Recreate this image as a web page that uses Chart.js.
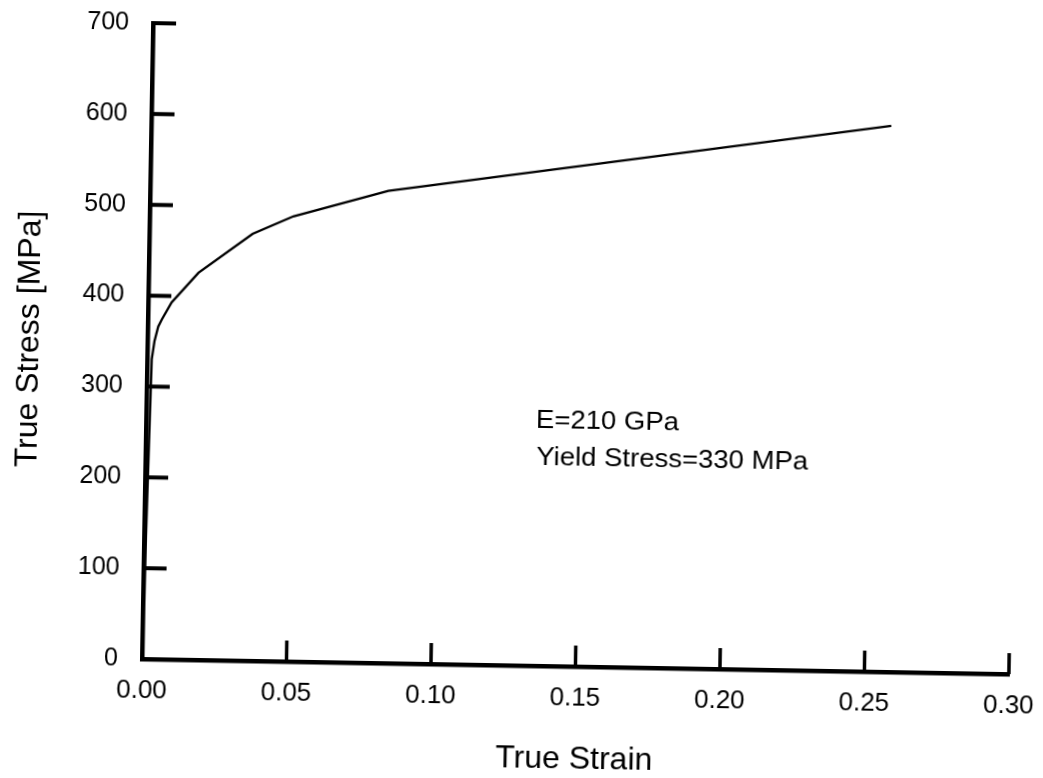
<!DOCTYPE html>
<html>
<head>
<meta charset="utf-8">
<script src="https://cdn.jsdelivr.net/npm/chart.js@4.4.1/dist/chart.umd.min.js"></script>
<style>
    html, body {
        margin: 0;
        padding: 0;
        background: #ffffff;
        overflow: hidden;
        width: 1043px;
        height: 778px;
    }
    #stressChart {
        position: absolute;
        left: 0;
        top: 0;
        /* the scanned figure sits slightly tilted */
        transform-origin: 142px 659px;
        transform: rotate(1deg);
    }
</style>
</head>
<body>
<canvas id="stressChart" width="1043" height="778"></canvas>
<script>
// Curve (true strain, true stress in MPa)
const trueStrain = [0, 0.00157, 0.0024, 0.0036, 0.0048, 0.0081, 0.0172, 0.0357, 0.0497, 0.0824, 0.256];
const trueStress = [0, 330, 350, 366, 374, 393, 426, 470, 490, 520, 601];

// Tick labels
const xTickLabels = ['0.00', '0.05', '0.10', '0.15', '0.20', '0.25', '0.30'];
const yTickLabels = ['0', '100', '200', '300', '400', '500', '600', '700'];

// Annotation text
const noteLines = ['E=210 GPa', 'Yield Stress=330 MPa'];

const FONT = '"Liberation Sans", Arial, Helvetica, sans-serif';

// Inward tick marks + the material note
const figureExtras = {
    id: 'figureExtras',
    afterDraw(chart) {
        const ctx = chart.ctx;
        const x = chart.scales.x;
        const y = chart.scales.y;
        const area = chart.chartArea;

        ctx.save();
        ctx.strokeStyle = '#000';
        ctx.lineCap = 'butt';

        // y ticks point into the plot
        ctx.lineWidth = 4;
        y.ticks.forEach(t => {
            if (t.value === 0) return;
            const py = y.getPixelForValue(t.value);
            ctx.beginPath();
            ctx.moveTo(area.left, py);
            ctx.lineTo(area.left + 23, py);
            ctx.stroke();
        });

        // x ticks point up
        ctx.lineWidth = 3.5;
        x.ticks.forEach(t => {
            if (t.value === 0) return;
            const px = x.getPixelForValue(t.value);
            ctx.beginPath();
            ctx.moveTo(px, area.bottom);
            ctx.lineTo(px, area.bottom - 21);
            ctx.stroke();
        });

        // note text, anchored in data units; the scan's lettering is a bit wide
        ctx.fillStyle = '#000';
        ctx.font = '25px ' + FONT;
        ctx.textAlign = 'left';
        ctx.textBaseline = 'alphabetic';
        const notes = [[0.1349, 261.5], [0.1352, 221.1]];
        notes.forEach((n, i) => {
            ctx.save();
            ctx.translate(x.getPixelForValue(n[0]), y.getPixelForValue(n[1]));
            ctx.scale(1.1, 1);
            ctx.fillText(noteLines[i], 0, 0);
            ctx.restore();
        });
        ctx.restore();
    }
};

const ctx = document.getElementById('stressChart').getContext('2d');

const stressChart = new Chart(ctx, {
    type: 'scatter',
    data: {
        datasets: [{
            label: 'True stress',
            data: trueStrain.map((s, i) => ({ x: s, y: trueStress[i] })),
            showLine: true,
            borderColor: '#000',
            borderWidth: 2.3,
            pointRadius: 0,
            tension: 0,
            fill: false
        }]
    },
    options: {
        responsive: false,
        devicePixelRatio: 1,
        animation: false,
        layout: {
            padding: { top: 23, right: 34, bottom: 0, left: 0 }
        },
        plugins: {
            legend: { display: false },
            tooltip: { enabled: false }
        },
        scales: {
            x: {
                type: 'linear',
                min: 0,
                max: 0.3,
                afterFit: scale => {
                    scale.height = 119;
                    scale.paddingLeft = 0;
                    scale.paddingRight = 0;
                },
                grid: { display: false, drawTicks: false },
                border: { display: true, color: '#000', width: 4.5 },
                ticks: {
                    stepSize: 0.05,
                    padding: 16,
                    color: '#000',
                    font: { family: FONT, size: 26 },
                    maxRotation: 0,
                    callback: (v, i) => xTickLabels[i]
                },
                title: {
                    display: true,
                    text: 'True Strain',
                    color: '#000',
                    font: { family: FONT, size: 32 },
                    padding: { top: 0, bottom: 7 }
                }
            },
            y: {
                type: 'linear',
                min: 0,
                max: 700,
                afterFit: scale => {
                    scale.width = 142;
                    scale.paddingTop = 0;
                    scale.paddingBottom = 0;
                },
                grid: { display: false, drawTicks: false },
                border: { display: true, color: '#000', width: 4.5 },
                ticks: {
                    stepSize: 100,
                    padding: 24,
                    color: '#000',
                    font: { family: FONT, size: 25 },
                    callback: (v, i) => yTickLabels[i]
                },
                title: {
                    display: true,
                    text: 'True Stress [MPa]',
                    color: '#000',
                    font: { family: FONT, size: 32 },
                    padding: { top: 5, bottom: 0 }
                }
            }
        }
    },
    plugins: [figureExtras]
});
</script>
</body>
</html>
